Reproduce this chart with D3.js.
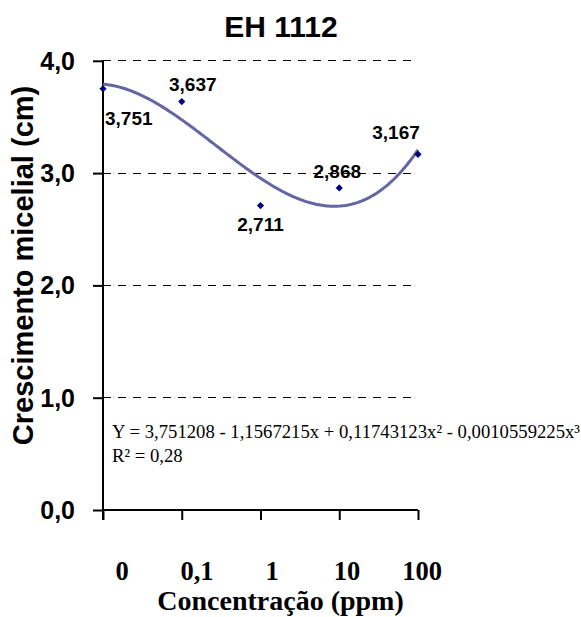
<!DOCTYPE html>
<html>
<head>
<meta charset="utf-8">
<script src="https://cdn.jsdelivr.net/npm/d3@7"></script>
<style>
  html, body { margin: 0; padding: 0; background: #fff; }
  svg { display: block; }
</style>
</head>
<body>
<svg id="chart" width="581" height="617"></svg>
<script>
// Mycelial growth of isolate EH 1112 at each concentration
const categories = ["0", "0,1", "1", "10", "100"];
const values = [3.751, 3.637, 2.711, 2.868, 3.167];
const yTicks = [0, 1, 2, 3, 4];
const titleText = "EH 1112";
const xTitle = "Concentração (ppm)";
const yTitle = "Crescimento micelial (cm)";
const equationLines = [
  "Y = 3,751208 - 1,1567215x + 0,11743123x² - 0,0010559225x³",
  "R² = 0,28"
];

// label offsets relative to each marker (dx, dy, anchor)
const labelPlacement = [
  { dx: 2, dy: 36, anchor: "start" },
  { dx: 11, dy: -11, anchor: "middle" },
  { dx: 0, dy: 25, anchor: "middle" },
  { dx: -2, dy: -10, anchor: "middle" },
  { dx: -22, dy: -15, anchor: "middle" }
];

const svg = d3.select("#chart");
const plot = { left: 103, right: 418, top: 60.8, bottom: 510 };

const x = d3.scalePoint().domain(categories).range([plot.left, plot.right]).padding(0);
const xIdx = d3.scaleLinear().domain([0, categories.length - 1]).range([plot.left, plot.right]);
const y = d3.scaleLinear().domain([0, 4]).range([plot.bottom, plot.top]);
const xLabelPos = d3.scalePoint().domain(categories).range([122, 422]);
const fmt = v => d3.format(".1f")(v).replace(".", ",");
const fmt3 = v => d3.format(".3f")(v).replace(".", ",");

// dashed gridlines
svg.append("g")
  .selectAll("line")
  .data(yTicks.filter(t => t > 0))
  .join("line")
  .attr("x1", plot.left).attr("x2", plot.right)
  .attr("y1", d => y(d)).attr("y2", d => y(d))
  .attr("stroke", "#000").attr("stroke-width", 1)
  .attr("stroke-dasharray", "8,7")
  .attr("shape-rendering", "crispEdges");

// y axis
const yAxis = svg.append("g")
  .attr("transform", `translate(${plot.left},0)`)
  .call(d3.axisLeft(y).tickValues(yTicks).tickFormat("").tickSize(10).tickSizeOuter(0));
yAxis.select(".domain").attr("stroke-width", 2).attr("d", `M0,${plot.top}V${plot.bottom + 10}`);
yAxis.selectAll(".tick line").attr("stroke-width", 2);

svg.append("g")
  .selectAll("text")
  .data(yTicks)
  .join("text")
  .attr("x", 75)
  .attr("y", d => y(d))
  .attr("dy", "0.36em")
  .attr("text-anchor", "end")
  .attr("font-family", "'Liberation Sans', Arial, sans-serif")
  .attr("font-weight", "bold")
  .attr("font-size", 25)
  .text(fmt);

// x axis
const xAxis = svg.append("g")
  .attr("transform", `translate(0,${plot.bottom})`)
  .call(d3.axisBottom(x).tickFormat("").tickSize(10).tickSizeOuter(0));
xAxis.select(".domain").attr("stroke-width", 2).attr("d", `M${plot.left},0H${plot.right}`);
xAxis.selectAll(".tick line").attr("stroke-width", 2);

svg.append("g")
  .selectAll("text")
  .data(categories)
  .join("text")
  .attr("x", d => xLabelPos(d))
  .attr("y", 580)
  .attr("text-anchor", "middle")
  .attr("font-family", "'Liberation Serif', 'Times New Roman', serif")
  .attr("font-weight", "bold")
  .attr("font-size", 26.5)
  .text(d => d);

// cubic least-squares trendline over category positions
function polyFit(xs, ys, degree) {
  const n = degree + 1;
  const A = Array.from({ length: n }, () => new Array(n + 1).fill(0));
  for (let r = 0; r < n; r++) {
    for (let c = 0; c < n; c++) A[r][c] = d3.sum(xs, v => Math.pow(v, r + c));
    A[r][n] = d3.sum(xs, (v, i) => ys[i] * Math.pow(v, r));
  }
  for (let i = 0; i < n; i++) {
    let p = i;
    for (let k = i + 1; k < n; k++) if (Math.abs(A[k][i]) > Math.abs(A[p][i])) p = k;
    [A[i], A[p]] = [A[p], A[i]];
    for (let k = 0; k < n; k++) {
      if (k === i) continue;
      const f = A[k][i] / A[i][i];
      for (let c = i; c <= n; c++) A[k][c] -= f * A[i][c];
    }
  }
  return A.map((row, i) => row[n] / row[i]);
}
const idx = categories.map((_, i) => i);
const coef = polyFit(idx, values, 3);
const evalPoly = t => coef.reduce((s, c, k) => s + c * Math.pow(t, k), 0);
const curve = d3.range(0, categories.length - 1 + 1e-9, 0.02).map(t => [t, evalPoly(t)]);

svg.append("path")
  .datum(curve)
  .attr("fill", "none")
  .attr("stroke", "#6666a3")
  .attr("stroke-width", 3)
  .attr("d", d3.line().x(d => xIdx(d[0])).y(d => y(d[1])).curve(d3.curveLinear));

// markers
svg.append("g")
  .selectAll("path")
  .data(values)
  .join("path")
  .attr("transform", (d, i) => `translate(${x(categories[i])},${y(d)}) rotate(45)`)
  .attr("d", d3.symbol(d3.symbolSquare, 26))
  .attr("fill", "#000080");

// value labels
svg.append("g")
  .selectAll("text")
  .data(values)
  .join("text")
  .attr("x", (d, i) => x(categories[i]) + labelPlacement[i].dx)
  .attr("y", (d, i) => y(d) + labelPlacement[i].dy)
  .attr("text-anchor", (d, i) => labelPlacement[i].anchor)
  .attr("font-family", "'Liberation Sans', Arial, sans-serif")
  .attr("font-weight", "bold")
  .attr("font-size", 19)
  .text(fmt3);

// equation
svg.append("g")
  .selectAll("text")
  .data(equationLines)
  .join("text")
  .attr("x", 112)
  .attr("y", (d, i) => 438 + i * 23.5)
  .attr("font-family", "'Liberation Serif', 'Times New Roman', serif")
  .attr("font-size", 18.7)
  .text(d => d);

// titles
svg.append("text")
  .attr("x", 281).attr("y", 37)
  .attr("text-anchor", "middle")
  .attr("font-family", "'Liberation Sans', Arial, sans-serif")
  .attr("font-weight", "bold")
  .attr("font-size", 30)
  .text(titleText);

svg.append("text")
  .attr("x", 280.5).attr("y", 610)
  .attr("text-anchor", "middle")
  .attr("font-family", "'Liberation Serif', 'Times New Roman', serif")
  .attr("font-weight", "bold")
  .attr("font-size", 28)
  .text(xTitle);

svg.append("text")
  .attr("transform", "translate(33,265.5) rotate(-90)")
  .attr("text-anchor", "middle")
  .attr("font-family", "'Liberation Sans', Arial, sans-serif")
  .attr("font-weight", "bold")
  .attr("font-size", 29)
  .text(yTitle);
</script>
</body>
</html>
